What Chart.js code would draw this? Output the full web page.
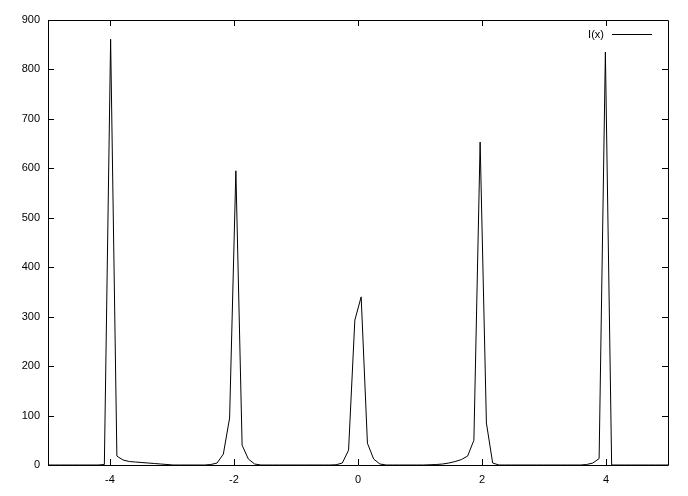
<!DOCTYPE html>
<html>
<head>
<meta charset="utf-8">
<script src="https://cdn.jsdelivr.net/npm/chart.js@4.4.1/dist/chart.umd.min.js"></script>
<style>
  html, body { margin: 0; padding: 0; background: #fff; }
  #wrap { width: 688px; height: 496px; }
</style>
</head>
<body>
<div id="wrap"><canvas id="plot" width="688" height="496"></canvas></div>
<script>
// sample positions (x) and intensity values
const xs = [
  -5, -4.899, -4.798, -4.697, -4.596, -4.495, -4.394, -4.293, -4.192, -4.091,
  -3.990, -3.889, -3.788, -3.687, -3.586, -3.485, -3.384, -3.283, -3.182, -3.081,
  -2.980, -2.879, -2.778, -2.677, -2.576, -2.475, -2.374, -2.273, -2.172, -2.071,
  -1.970, -1.869, -1.768, -1.667, -1.566, -1.465, -1.364, -1.263, -1.162, -1.061,
  -0.960, -0.859, -0.758, -0.657, -0.556, -0.455, -0.354, -0.253, -0.152, -0.051,
  0.051, 0.152, 0.253, 0.354, 0.455, 0.556, 0.657, 0.758, 0.859, 0.960,
  1.061, 1.162, 1.263, 1.364, 1.465, 1.566, 1.667, 1.768, 1.869, 1.970,
  2.071, 2.172, 2.273, 2.374, 2.475, 2.576, 2.677, 2.778, 2.879, 2.980,
  3.081, 3.182, 3.283, 3.384, 3.485, 3.586, 3.687, 3.788, 3.889, 3.990,
  4.091, 4.192, 4.293, 4.394, 4.495, 4.596, 4.697, 4.798, 4.899, 5
];
const intensity = [
  0, 0, 0, 0, 0, 0, 0, 0, 0, 1,
  861, 18, 10, 7, 6, 5, 4, 3, 2, 1,
  0, 0, 0, 0, 0, 0, 1, 4, 22, 95,
  595, 40, 12, 2, 0, 0, 0, 0, 0, 0,
  0, 0, 0, 0, 0, 0, 0.5, 4, 30, 293,
  340, 44, 12, 2, 0, 0, 0, 0, 0, 0,
  0, 0.5, 1, 2, 4, 7, 11, 18, 50, 653,
  85, 4, 0, 0, 0, 0, 0, 0, 0, 0,
  0, 0, 0, 0, 0, 0, 1, 4, 13, 835,
  0, 0, 0, 0, 0, 0, 0, 0, 0, 0
];
const xTicks = [-4, -2, 0, 2, 4];
const yTicks = [0, 100, 200, 300, 400, 500, 600, 700, 800, 900];
const seriesName = 'I(x)';

const FONT = '"Liberation Sans", Arial, sans-serif';
const TICK = 6;

// gnuplot style frame with inward ticks on all four sides + key
const framePlugin = {
  id: 'frame',
  afterDatasetsDraw(chart) {
    const { ctx, chartArea: a, scales } = chart;
    ctx.save();
    ctx.strokeStyle = '#000';
    ctx.lineWidth = 1;
    ctx.beginPath();
    ctx.rect(a.left + 0.5, a.top + 0.5, a.right - a.left, a.bottom - a.top);
    xTicks.forEach(v => {
      const px = Math.round(scales.x.getPixelForValue(v)) + 0.5;
      ctx.moveTo(px, a.bottom); ctx.lineTo(px, a.bottom - TICK);
      ctx.moveTo(px, a.top); ctx.lineTo(px, a.top + TICK);
    });
    yTicks.forEach(v => {
      const py = Math.round(scales.y.getPixelForValue(v)) + 0.5;
      ctx.moveTo(a.left, py); ctx.lineTo(a.left + TICK, py);
      ctx.moveTo(a.right, py); ctx.lineTo(a.right - TICK, py);
    });
    ctx.stroke();

    // key
    const ky = a.top + 14.5;
    ctx.font = '11px ' + FONT;
    ctx.fillStyle = '#000';
    ctx.textAlign = 'right';
    ctx.textBaseline = 'middle';
    ctx.fillText(seriesName, a.right - 64, ky);
    ctx.beginPath();
    ctx.moveTo(a.right - 56, ky);
    ctx.lineTo(a.right - 16, ky);
    ctx.stroke();
    ctx.restore();
  }
};

new Chart(document.getElementById('plot').getContext('2d'), {
  type: 'scatter',
  data: {
    datasets: [{
      label: seriesName,
      data: xs.map((x, i) => ({ x, y: intensity[i] })),
      showLine: true,
      borderColor: '#000',
      borderWidth: 1,
      pointRadius: 0,
      tension: 0
    }]
  },
  options: {
    responsive: false,
    animation: false,
    layout: { padding: { top: 20, right: 20, left: 0, bottom: 0 } },
    plugins: { legend: { display: false }, tooltip: { enabled: false } },
    scales: {
      x: {
        type: 'linear',
        min: -5,
        max: 5,
        afterBuildTicks: s => { s.ticks = xTicks.map(v => ({ value: v })); },
        afterFit: s => { s.height = 31; },
        grid: { display: false, drawTicks: false },
        border: { display: false },
        ticks: { color: '#000', padding: 8, maxRotation: 0, font: { family: FONT, size: 11 } }
      },
      y: {
        min: 0,
        max: 900,
        afterBuildTicks: s => { s.ticks = yTicks.map(v => ({ value: v })); },
        afterFit: s => { s.width = 48; },
        grid: { display: false, drawTicks: false },
        border: { display: false },
        ticks: { color: '#000', padding: 8, font: { family: FONT, size: 11 } }
      }
    }
  },
  plugins: [framePlugin]
});
</script>
</body>
</html>
